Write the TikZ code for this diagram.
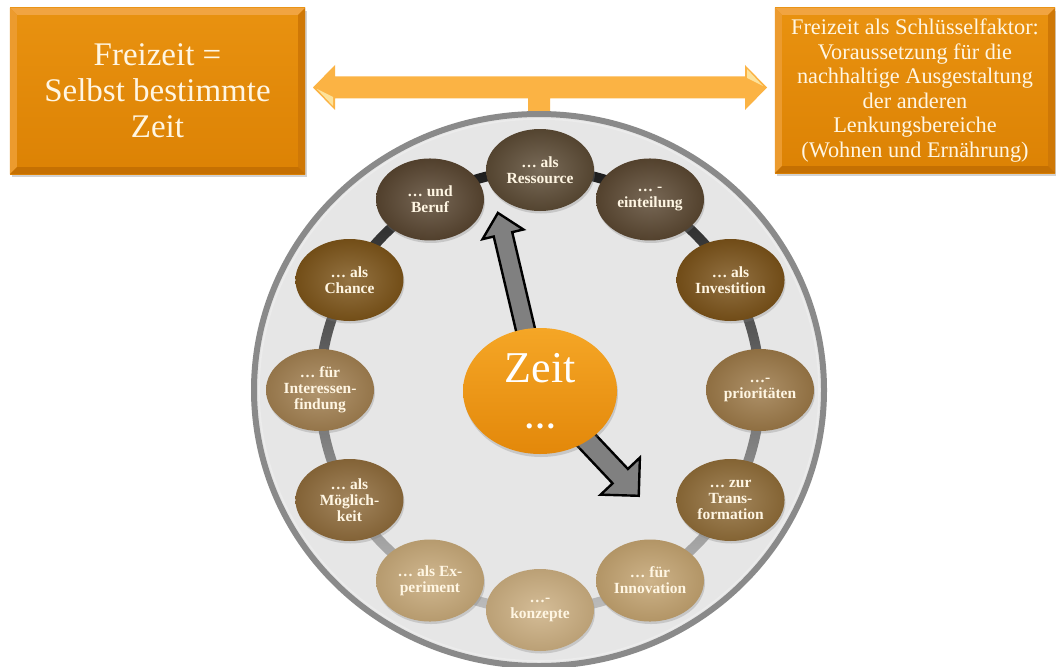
\documentclass[tikz,border=0pt]{standalone}
\usepackage{fontspec}
\setmainfont{Liberation Serif}
\usetikzlibrary{shapes.geometric,shadows,calc}
\definecolor{boxTop}{HTML}{E99210}
\definecolor{boxBot}{HTML}{DC8204}
\definecolor{bevLight}{HTML}{F1A441}
\definecolor{bevLeft}{HTML}{EC9B2E}
\definecolor{bevRight}{HTML}{CF7806}
\definecolor{bevDark}{HTML}{C57002}
\definecolor{arrOrange}{HTML}{FBB344}
\definecolor{arrHi}{HTML}{FDE29A}
\definecolor{dialFill}{HTML}{E6E6E6}
\definecolor{dialRim}{HTML}{8A8A8A}
\definecolor{arrGray}{HTML}{808080}
\definecolor{cream}{HTML}{FFF6E3}
\definecolor{cA}{HTML}{5B4A34}
\definecolor{cB}{HTML}{5A4731}
\definecolor{cC}{HTML}{584530}
\definecolor{cD}{HTML}{7A5219}
\definecolor{cE}{HTML}{7C5419}
\definecolor{cF}{HTML}{9B7847}
\definecolor{cG}{HTML}{A17F50}
\definecolor{cH}{HTML}{8F6C38}
\definecolor{cI}{HTML}{8E6B3B}
\definecolor{cJ}{HTML}{C2A26F}
\definecolor{cK}{HTML}{C6A878}
\definecolor{cL}{HTML}{CBAE80}
\definecolor{zTop}{HTML}{F5A626}
\definecolor{zBot}{HTML}{E3880A}
\begin{document}
\begin{tikzpicture}[x=1pt,y=-1pt,
  bigbox/.style={rectangle, inner sep=0pt, text=cream, align=center,
    top color=boxTop, bottom color=boxBot,
    drop shadow={opacity=0.35, shadow xshift=2pt, shadow yshift=-3pt}},
  ringnode/.style={ellipse, minimum width=108pt, minimum height=82pt, inner sep=0pt,
    text=cream, align=center, font=\fontsize{15.5}{16}\selectfont\bfseries,
    inner color=#1!82!white, outer color=#1!92!black,
    drop shadow={opacity=0.3, shadow xshift=1pt, shadow yshift=-2.5pt}},
  blockarrow/.style={fill=arrGray, draw=black, line width=2.4pt, line join=miter}
]
\useasboundingbox (0,0) rectangle (1056,666);
\fill[white] (0,0) rectangle (1056,666);

% --- top boxes ---
\node[bigbox, minimum width=295pt, minimum height=166pt,
      font=\fontsize{33}{36}\selectfont] (boxL) at (157.5,91)
      {Freizeit =\\Selbst bestimmte\\Zeit};
\node[bigbox, minimum width=280pt, minimum height=165pt,
      font=\fontsize{22.3}{24.5}\selectfont] (boxR) at (915,90.5)
      {Freizeit als Schlüsselfaktor:\\Voraussetzung für die\\nachhaltige Ausgestaltung\\der anderen\\Lenkungsbereiche\\(Wohnen und Ernährung)};

\foreach \b in {boxL,boxR}{
  \fill[bevLight] (\b.north west) -- (\b.north east) -- ($(\b.north east)+(-7,7)$) -- ($(\b.north west)+(7,7)$) -- cycle;
  \fill[bevLeft] (\b.north west) -- ($(\b.north west)+(7,7)$) -- ($(\b.south west)+(7,-7)$) -- (\b.south west) -- cycle;
  \fill[bevRight] (\b.north east) -- ($(\b.north east)+(-7,7)$) -- ($(\b.south east)+(-7,-7)$) -- (\b.south east) -- cycle;
  \fill[bevDark] (\b.south west) -- ($(\b.south west)+(7,-7)$) -- ($(\b.south east)+(-7,-7)$) -- (\b.south east) -- cycle;
}

% --- double arrow with stem ---
\coordinate (aL) at (313,87.5);
\coordinate (aR) at (767,87.5);
\fill[arrOrange] (aL) -- (335,65) -- (335,76.5) -- (745,76.5) -- (745,65) -- (aR)
  -- (745,110) -- (745,98.5) -- (550,98.5) -- (550,120) -- (528,120) -- (528,98.5)
  -- (335,98.5) -- (335,110) -- cycle;
\fill[arrHi] (317,89) -- (333,106) -- (333,97) -- cycle;
\fill[arrHi] (763,86) -- (747,69) -- (747,78) -- cycle;

% --- dial ---
\node[ellipse, minimum width=570pt, minimum height=552pt, inner sep=0pt,
      fill=dialFill, draw=dialRim, line width=6pt] (dial) at (539,390) {};
\draw[white!85!gray, line width=1.6pt] (539,390) ellipse [x radius=280pt, y radius=271pt];

% --- track ring ---
\coordinate (rc) at (540,390);
\begin{scope}[even odd rule]
  \clip (rc) circle [radius=225pt] (rc) circle [radius=215pt];
  \shade[top color=black!90, bottom color=black!25] (300,160) rectangle (780,620);
\end{scope}

% --- gray arrows ---
\coordinate (zc) at (540,391);
\begin{scope}[shift={(zc)}, rotate=103.3]
  \filldraw[blockarrow] (0,-9.5) -- (161,-9.5) -- (161,-21) -- (183,0) -- (161,21) -- (161,9.5) -- (0,9.5) -- cycle;
\end{scope}
\begin{scope}[shift={(zc)}, rotate=-46.7]
  \filldraw[blockarrow] (0,-10.5) -- (117,-10.5) -- (117,-27) -- (144,0) -- (117,27) -- (117,10.5) -- (0,10.5) -- cycle;
\end{scope}

% --- centre node ---
\node[ellipse, minimum width=154pt, minimum height=126pt, inner sep=0pt,
      top color=zTop, bottom color=zBot, text=white, align=center,
      font=\fontsize{44}{46}\selectfont,
      drop shadow={opacity=0.3, shadow xshift=1pt, shadow yshift=-3pt}] (zeit) at (zc)
      {Zeit\\{\fontsize{32}{32}\selectfont\bfseries …}};

% --- ring nodes ---
\node[ringnode=cA] (n90)  at ({540+220*cos(90)},{390-220*sin(90)})   {… als\\Ressource};
\node[ringnode=cB] (n60)  at ({540+220*cos(60)},{390-220*sin(60)})   {… -\\einteilung};
\node[ringnode=cC] (n120) at ({540+220*cos(120)},{390-220*sin(120)}) {… und\\Beruf};
\node[ringnode=cD] (n30)  at ({540+220*cos(30)},{390-220*sin(30)})   {… als\\Investition};
\node[ringnode=cE] (n150) at ({540+220*cos(150)},{390-220*sin(150)}) {… als\\Chance};
\node[ringnode=cF] (n0)   at ({540+220*cos(0)},{390-220*sin(0)})     {…-\\prioritäten};
\node[ringnode=cG] (n180) at ({540+220*cos(180)},{390-220*sin(180)}) {… für\\Interessen-\\findung};
\node[ringnode=cH] (n330) at ({540+220*cos(-30)},{390-220*sin(-30)}) {… zur\\Trans-\\formation};
\node[ringnode=cI] (n210) at ({540+220*cos(-150)},{390-220*sin(-150)}) {… als\\Möglich-\\keit};
\node[ringnode=cJ] (n300) at ({540+220*cos(-60)},{390-220*sin(-60)}) {… für\\Innovation};
\node[ringnode=cK] (n240) at ({540+220*cos(-120)},{390-220*sin(-120)}) {… als Ex-\\periment};
\node[ringnode=cL] (n270) at ({540+220*cos(-90)},{390-220*sin(-90)}) {…-\\konzepte};
\end{tikzpicture}
\end{document}
